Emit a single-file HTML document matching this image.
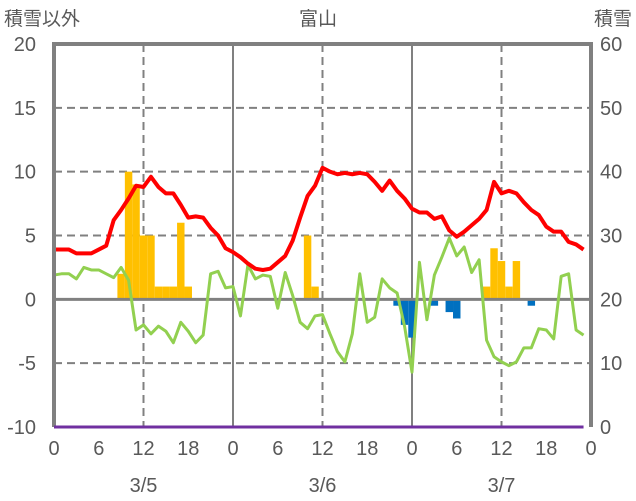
<!DOCTYPE html>
<html><head><meta charset="utf-8">
<style>
html,body{margin:0;padding:0;background:#fff;}
svg{display:block;font-family:"Liberation Sans","Noto Sans CJK JP",sans-serif;}
</style></head>
<body>
<svg id="chart" width="636" height="501" viewBox="0 0 636 501" xmlns="http://www.w3.org/2000/svg"></svg>
<script>
const hours = Array.from({length:72},(_,i)=>i);
const temperature = [3.9,3.9,3.9,3.6,3.6,3.6,3.9,4.2,6.2,7.0,7.9,8.9,8.8,9.6,8.8,8.3,8.3,7.4,6.4,6.5,6.4,5.6,5.0,4.0,
 3.7,3.3,2.8,2.4,2.3,2.4,2.9,3.4,4.6,6.4,8.1,8.9,10.3,10.0,9.8,9.9,9.8,9.9,9.8,9.2,8.5,9.3,8.5,7.9,
 7.1,6.8,6.8,6.3,6.5,5.4,4.9,5.3,5.8,6.3,7.0,9.2,8.3,8.5,8.3,7.6,7.0,6.6,5.7,5.3,5.3,4.5,4.3,3.9];
const greenSeries = [1.9,2.0,2.0,1.6,2.5,2.3,2.3,2.0,1.7,2.5,1.5,-2.4,-2.0,-2.7,-2.1,-2.5,-3.4,-1.8,-2.5,-3.4,-2.8,2.0,2.2,0.9,
 1.0,-1.3,2.7,1.6,1.9,1.8,-0.7,2.1,0.3,-1.8,-2.3,-1.3,-1.2,-2.7,-4.1,-4.9,-2.7,2.0,-1.8,-1.4,1.6,0.9,0.5,-2.1,
 -5.7,2.9,-1.6,1.9,3.3,4.8,3.4,4.1,2.1,3.1,-3.2,-4.5,-4.9,-5.2,-4.9,-3.8,-3.8,-2.3,-2.4,-3.1,1.8,2.0,-2.4,-2.8];
const snowfallHours = [9,10,11,12,13,14,15,16,17,18,34,35,58,59,60,61,62];
const snowfallValues = [2,10,9,5,5,1,1,1,6,1,5,1,1,4,3,1,3];
const decreaseHours = [46,47,48,51,53,54,64];
const decreaseValues = [-0.5,-2,-3,-0.5,-1,-1.5,-0.5];
const snowDepth = Array(72).fill(0);
const leftTicks = [20,15,10,5,0,-5,-10];
const rightTicks = [60,50,40,30,20,10,0];
const xTickHours = [0,6,12,18,24,30,36,42,48,54,60,66,72];
const xTickLabels = ["0","6","12","18","0","6","12","18","0","6","12","18","0"];
const dateLabels = ["3/5","3/6","3/7"];
const dateHours = [12,36,60];

const X0=54,X1=591,Y0=427,Y1=44;
const xs=h=>X0+(X1-X0)*h/72;
const yL=v=>Y0-(Y0-Y1)*(v+10)/30;
const yR=v=>Y0-(Y0-Y1)*v/60;
const svg=document.getElementById('chart');
const NS="http://www.w3.org/2000/svg";
function mk(tag,attrs,parent){const e=document.createElementNS(NS,tag);for(const k in attrs)e.setAttribute(k,attrs[k]);(parent||svg).appendChild(e);return e;}

leftTicks.forEach(v=>{ if(v===20||v===-10||v===0) return;
  const g=mk('line',{x1:X0,x2:X1,y1:yL(v),y2:yL(v),stroke:'#808080','stroke-width':2,'stroke-dasharray':'8,5'});
  
  
});
[12,36,60].forEach(h=>{
  const g=mk('line',{x1:xs(h),x2:xs(h),y1:Y1,y2:Y0,stroke:'#808080','stroke-width':2,'stroke-dasharray':'8,5'});
  
  
});
[24,48].forEach(h=>{
  const g=mk('line',{x1:xs(h),x2:xs(h),y1:Y1,y2:Y0,stroke:'#808080','stroke-width':2});
  
  
});
const bw=(X1-X0)/72;
snowfallHours.forEach((h,i)=>{
  const v=snowfallValues[i];
  const r=mk('rect',{x:xs(h)-bw/2,y:yL(v),width:bw,height:yL(0)-yL(v),fill:'#FFC000'});
  
  
});
decreaseHours.forEach((h,i)=>{
  const v=decreaseValues[i];
  const r=mk('rect',{x:xs(h)-bw/2,y:yL(0),width:bw,height:yL(v)-yL(0),fill:'#0070C0'});
  
  
});
const z=mk('line',{x1:X0,x2:X1,y1:yL(0),y2:yL(0),stroke:'#808080','stroke-width':3});


function line(data,yf,color,w,name){
  const p=mk('polyline',{points:data.map((v,i)=>xs(hours[i])+','+yf(v)).join(' '),fill:'none',stroke:color,'stroke-width':w,'stroke-linejoin':'round'});
  
  
}
line(greenSeries,yL,'#92D050',3,'green-series-line');
line(temperature,yL,'#FF0000',4,'temperature-line');
const fr=mk('path',{d:`M${X0},${Y0} L${X0},${Y1} L${X1},${Y1} L${X1},${Y0}`,fill:'none',stroke:'#808080','stroke-width':4});


line(snowDepth,yR,'#7030A0',3,'snow-depth-line');
const tc='#595959';
leftTicks.forEach(v=>{
  const t=mk('text',{x:36,y:yL(v)+7,'text-anchor':'end','font-size':20,fill:tc});t.textContent=v;
  
  
});
rightTicks.forEach(v=>{
  const t=mk('text',{x:600,y:yR(v)+7,'font-size':20,fill:tc});t.textContent=v;
  
  
});
xTickHours.forEach((h,i)=>{
  const t=mk('text',{x:xs(h),y:455,'text-anchor':'middle','font-size':20,fill:tc});t.textContent=xTickLabels[i];
  
  
});
dateHours.forEach((h,i)=>{
  const t=mk('text',{x:xs(h),y:492,'text-anchor':'middle','font-size':20,fill:tc});t.textContent=dateLabels[i];
  
  
});
const tl=mk('text',{x:4,y:25,'font-size':19,fill:tc});tl.textContent='積雪以外';


const tr=mk('text',{x:632,y:25,'text-anchor':'end','font-size':19,fill:tc});tr.textContent='積雪';


const tt=mk('text',{x:318,y:25,'text-anchor':'middle','font-size':19,fill:tc});tt.textContent='富山';


</script>
</body></html>
